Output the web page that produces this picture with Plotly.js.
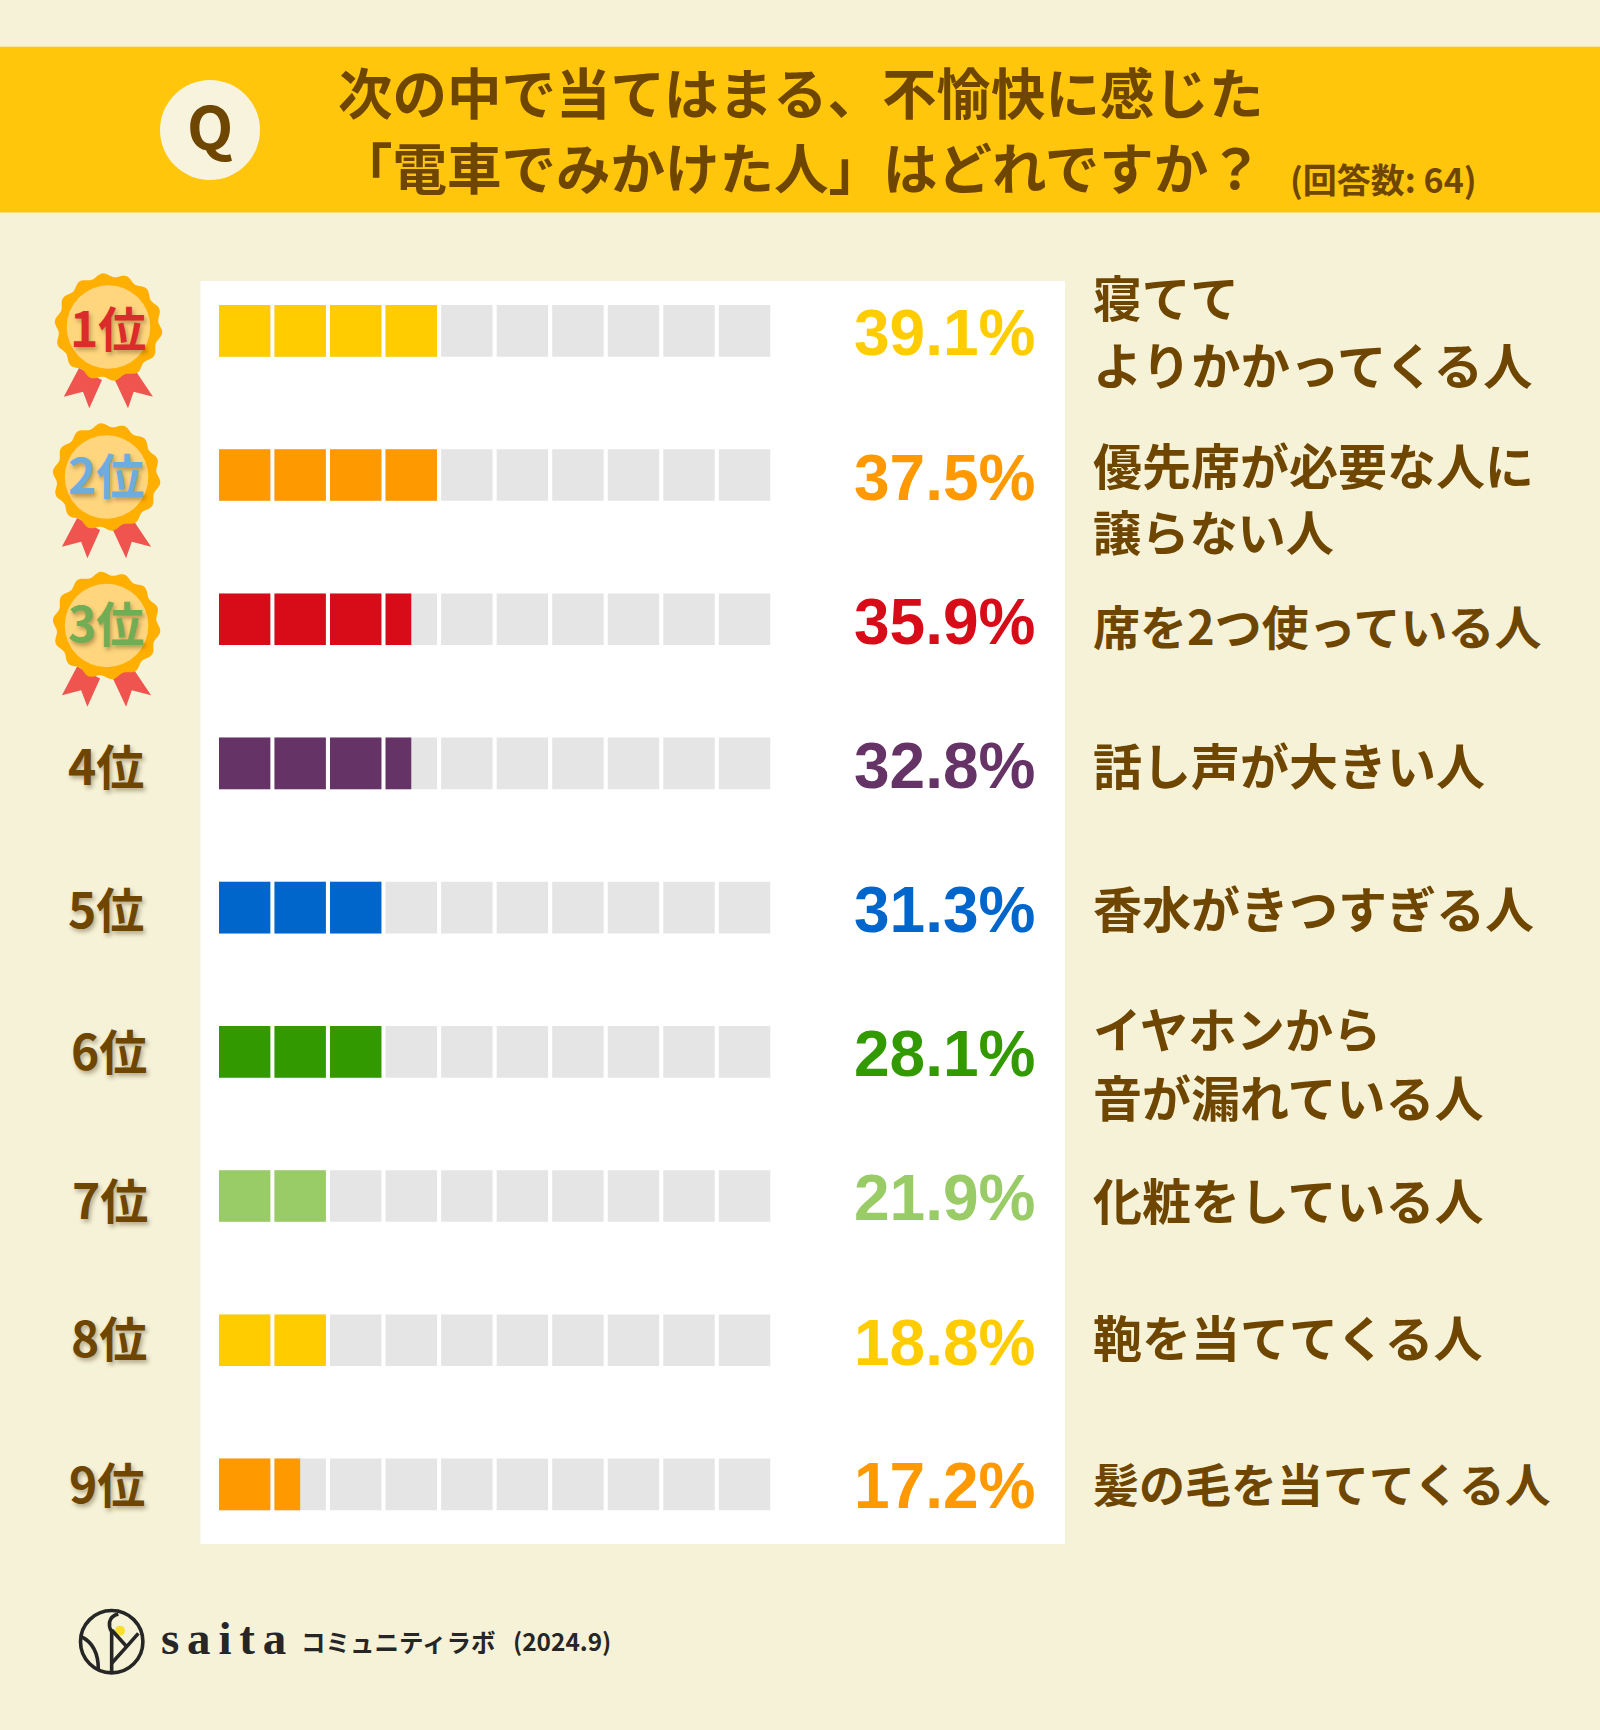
<!DOCTYPE html>
<html><head><meta charset="utf-8">
<script src="https://cdn.plot.ly/plotly-3.0.1.min.js"></script>
<style>html,body{margin:0;padding:0;background:#F6F2D7}</style></head>
<body><div id="chart" style="width:1600px;height:1730px"></div>
<script>
// ---- data ----
const ranks = ['1位','2位','3位','4位','5位','6位','7位','8位','9位'];
const labels = ['寝てて\nよりかかってくる人','優先席が必要な人に\n譲らない人','席を2つ使っている人','話し声が大きい人','香水がきつすぎる人','イヤホンから\n音が漏れている人','化粧をしている人','鞄を当ててくる人','髪の毛を当ててくる人'];
const percents = [39.1,37.5,35.9,32.8,31.3,28.1,21.9,18.8,17.2];
const filled = [4,4,3.5,3.5,3,3,2,2,1.5];
const colors = ['#FFCC00','#FF9900','#D70C18','#663366','#0066CC','#339900','#99CC66','#FFCC00','#FF9900'];
const rankColors = ['#DC2B2B','#6CADDE','#70AD55',null,null,null,null,null,null];
const totalSegments = 10;

// ---- page geometry ----
const W=1600,H=1730;
const px=x=>x/W, py=y=>1-y/H;
const BROWN='#6E4600', DARK='#262626', CJK='"Noto Sans CJK JP","Noto Sans",sans-serif';
const segW=0.926, barThick=0.358;
const rankX=[108,105.5,105.5,105.5,106,109,109.5,108.5,106.5];
const rankY=[325.7,472.7,620.7,763.7,906.7,1048.7,1198,1335.7,1481.7];
const labelY=[[295.6,363.6],[463.6,529.6],[624.6],[763.6],[906.6],[1026.6,1095.6],[1198.6],[1335.6],[1481.6]];
const labelSize=[[48.7,49.5],[49,48.2],[47],[49],[49],[48.3,49],[49],[49],[46]];
const pctY=[333,478,622,766,910,1054,1198,1343,1486];

// ---- bars ----
const gx=[],gy=[],gb=[];
const cx=[],cy=[],cb=[],cc=[];
ranks.forEach((r,i)=>{
  for(let s=0;s<totalSegments;s++){
    gx.push(segW);gy.push(r);gb.push(s);
    const f=Math.min(1,filled[i]-s);
    if(f>0){cx.push(segW*f);cy.push(r);cb.push(s);cc.push(colors[i]);}
  }
});
const traces=[
 {type:'bar',orientation:'h',x:gx,y:gy,base:gb,width:barThick,marker:{color:'#E5E5E5'},hoverinfo:'skip',showlegend:false},
 {type:'bar',orientation:'h',x:cx,y:cy,base:cb,width:barThick,marker:{color:cc},hoverinfo:'skip',showlegend:false}
];

// ---- shapes ----
const P=(x,y)=>px(x).toFixed(5)+','+py(y).toFixed(5);
const poly=pts=>'M'+pts.map(p=>P(p[0],p[1])).join('L')+'Z';
const pathShape=(d,fill,extra)=>Object.assign({type:'path',xref:'paper',yref:'paper',path:d,fillcolor:fill,line:{width:0},layer:'below'},extra||{});
const circ=(x,y,rx,ry,fill,line)=>({type:'circle',xref:'paper',yref:'paper',x0:px(x-rx),x1:px(x+rx),y0:py(y+ry),y1:py(y-ry),fillcolor:fill,line:line||{width:0},layer:'below'});
const shapes=[];
shapes.push({type:'rect',xref:'paper',yref:'paper',x0:0,x1:1,y0:py(212.5),y1:py(46.7),fillcolor:'#FFC60C',line:{width:0},layer:'below'});
shapes.push(circ(210,130,50,50,'#F8F3DC'));
shapes.push({type:'rect',xref:'paper',yref:'paper',x0:px(200.5),x1:px(1065),y0:py(1544),y1:py(281),fillcolor:'#FFFFFF',line:{width:0},layer:'below'});

function medal(cxm,cym){
  const rib=[[[-29.5,41],[-44.7,69.7],[-25.5,64.7],[-19.2,81.3],[-6.5,53]],[[25.2,41],[44.5,69.7],[25.2,64.7],[19.5,81.3],[6.3,53]]];
  rib.forEach(r=>shapes.push(pathShape(poly(r.map(p=>[cxm+p[0],cym+p[1]])),'#F0544F')));
  const pts=[];
  for(let k=0;k<168;k++){const t=2*Math.PI*k/168;const rr=52+2*Math.cos(14*t-Math.PI/2);pts.push([cxm+rr*Math.cos(t),cym+rr*Math.sin(t)]);}
  shapes.push(pathShape(poly(pts),'#FFAF00'));
  shapes.push(circ(cxm,cym,41.8,41.8,'#FFD67E'));
}
medal(108.5,327);medal(106.6,477);medal(106.6,625.5);

// logo
const L=(X,Y)=>P(70+X/3,1600+Y/3);
const stroke={color:DARK,width:3.6};
shapes.push(circ(111.7,1641.7,31.2,31.2,'rgba(0,0,0,0)',stroke));
shapes.push(circ(120,1630.7,5,5,'#F7E02C'));
const line=(d)=>({type:'path',xref:'paper',yref:'paper',path:d,line:stroke,layer:'below'});
shapes.push(line('M'+L(125,218)+'L'+L(125,95)+'C'+L(115,80)+' '+L(112,50)+' '+L(145,42)));
shapes.push(line('M'+L(125,90)+'L'+L(170,140)));
shapes.push(line('M'+L(205,100)+'L'+L(170,140)+'L'+L(125,190)));
shapes.push(line('M'+L(34,110)+'C'+L(70,128)+' '+L(85,160)+' '+L(85,208)));

// ---- text ----
const ann=[];
const T=(text,x,y,size,color,o)=>ann.push(Object.assign({text,xref:'paper',yref:'paper',x:px(x),y:py(y),xanchor:'left',yanchor:'middle',showarrow:false,
   font:Object.assign({family:CJK,size,color,weight:700},(o&&o.font)||{})},o?{xanchor:o.xanchor||'left'}:{}));
T('次の中で当てはまる、不愉快に感じた',800,90,54.5,BROWN,{xanchor:'center'});
T('「電車でみかけた人」はどれですか？',800,165.5,54.5,BROWN,{xanchor:'center'});
T('(回答数: 64)',1287.5,178.5,34,BROWN);
T('Q',210,123.5,60,BROWN,{xanchor:'center'});
ranks.forEach((r,i)=>{
  T(r,rankX[i],rankY[i],48,rankColors[i]||BROWN,{xanchor:'center',font:{shadow:'2px 3px 4px rgba(60,40,0,0.35)'}});
  T(percents[i].toFixed(1)+'%',1036.5,pctY[i],64,colors[i],{xanchor:'right',font:{family:'"Liberation Sans",Arial,sans-serif'}});
  labels[i].split('\n').forEach((ln,j)=>T(ln,1091,labelY[i][j],labelSize[i][j],BROWN));
});
T('s\u2006a\u2006i\u2006t\u2006a',158.5,1638,47,DARK,{font:{family:'"Liberation Serif",serif'}});
T('コミュニティラボ',299,1641,24.5,DARK);
T('(2024.9)',511,1640,24.4,DARK);

Plotly.newPlot('chart',traces,{
  width:W,height:H,autosize:false,margin:{l:0,r:0,t:0,b:0,pad:0},
  paper_bgcolor:'#F6F2D7',plot_bgcolor:'rgba(0,0,0,0)',showlegend:false,barmode:'overlay',
  xaxis:{domain:[218.9/W,774.4/W],range:[0,totalSegments],visible:false,fixedrange:true},
  yaxis:{domain:[1-1556.5/H,1-258.75/H],type:'category',categoryorder:'array',categoryarray:ranks,range:[ranks.length-0.5,-0.5],visible:false,fixedrange:true},
  shapes:shapes,annotations:ann
},{displayModeBar:false,staticPlot:true});
</script></body></html>
